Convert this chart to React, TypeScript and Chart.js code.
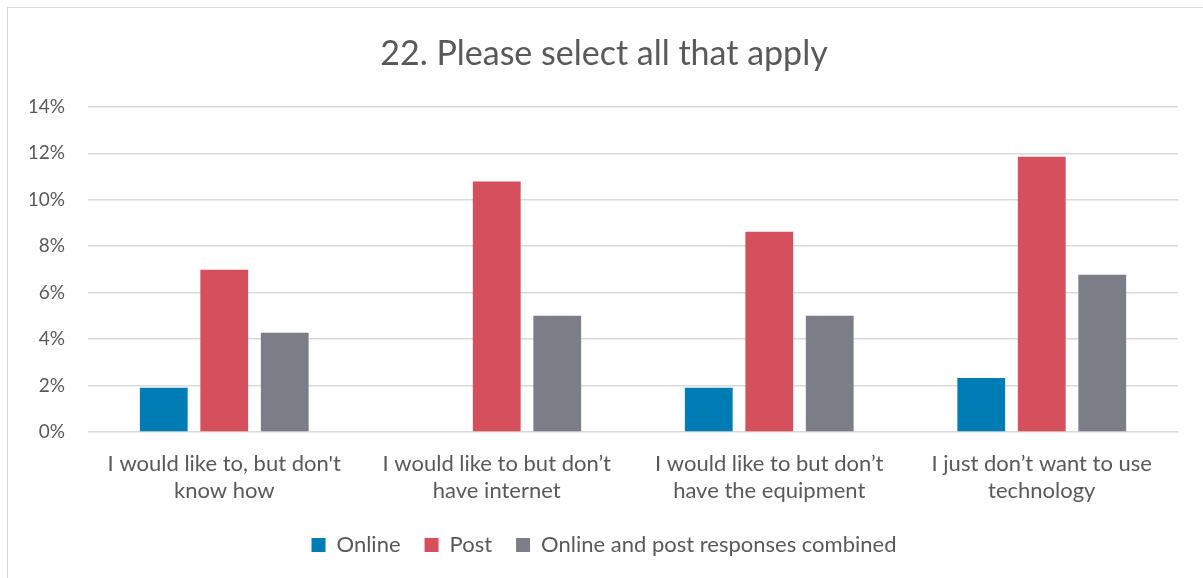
import React, { useEffect, useRef } from "react";
import { Chart, registerables } from "chart.js";

Chart.register(...registerables);

const categories: string[][] = [
  ["I would like to, but don't", "know how"],
  ["I would like to but don’t", "have internet"],
  ["I would like to but don’t", "have the equipment"],
  ["I just don’t want to use", "technology"],
];
const onlineValues = [1.9, 0, 1.9, 2.33];
const postValues = [6.98, 10.78, 8.62, 11.85];
const combinedValues = [4.27, 5.0, 5.0, 6.77];
const seriesNames = ["Online", "Post", "Online and post responses combined"];
const titleText = "22. Please select all that apply";

const FONT = "Lato, 'Noto Sans', sans-serif";
const TEXT = "#595959";

export default function App() {
  const ref = useRef<HTMLCanvasElement | null>(null);
  useEffect(() => {
    if (!ref.current) return;
    const chart = new Chart(ref.current, {
      type: "bar",
      data: {
        labels: categories,
        datasets: [
          { label: seriesNames[0], data: onlineValues, backgroundColor: "#007cb4", borderWidth: 0 },
          { label: seriesNames[1], data: postValues, backgroundColor: "#d64f5d", borderWidth: 0 },
          { label: seriesNames[2], data: combinedValues, backgroundColor: "#7b7e86", borderWidth: 0 },
        ],
      },
      options: {
        responsive: false,
        animation: false,
        layout: { padding: { top: 34, left: 30, right: 25, bottom: 12 } },
        datasets: { bar: { categoryPercentage: 0.666, barPercentage: 0.79 } },
        plugins: {
          title: {
            display: true,
            text: titleText,
            color: TEXT,
            font: { family: FONT, size: 34, weight: "normal" },
            padding: { top: 0, bottom: 32 },
          },
          legend: {
            position: "bottom",
            labels: {
              color: TEXT,
              font: { family: FONT, size: 22 },
              boxWidth: 14,
              boxHeight: 14,
              padding: 24,
            },
          },
          tooltip: { enabled: false },
        },
        scales: {
          x: {
            grid: { display: false, drawTicks: false },
            border: { display: false },
            afterFit: (s: any) => {
              s.height = 78;
            },
            ticks: {
              color: TEXT,
              font: { family: FONT, size: 22 },
              maxRotation: 0,
              autoSkip: false,
              padding: 19,
            },
          },
          y: {
            min: 0,
            max: 14,
            grid: { color: "#d9d9d9", lineWidth: 1.5, drawTicks: false },
            border: { display: false },
            afterFit: (s: any) => {
              s.width = 58;
            },
            ticks: {
              stepSize: 2,
              color: TEXT,
              font: { family: FONT, size: 19 },
              padding: 23,
              callback: (v: any) => `${v}%`,
            },
          },
        },
      },
    });
    return () => chart.destroy();
  }, []);
  return (
    <div style={{ position: "absolute", left: 0, top: 0, width: 1203, height: 578, overflow: "hidden", background: "#fff" }}>
      <div style={{ position: "absolute", left: 7, top: 7, width: 1300, height: 700, border: "1.5px solid #d9d9d9", boxSizing: "border-box" }} />
      <canvas ref={ref} width={1203} height={578} style={{ position: "absolute", left: 0, top: 0 }} />
    </div>
  );
}
